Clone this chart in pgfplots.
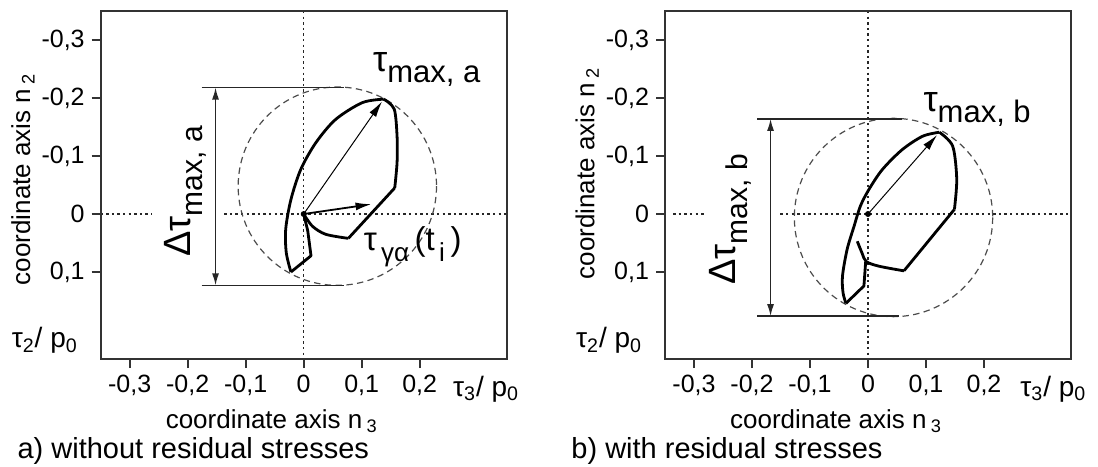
\documentclass[border=0pt]{standalone}
\usepackage{fontspec}
\setmainfont{Liberation Sans}
\usepackage{pgfplots}
\pgfplotsset{compat=1.18}
\usetikzlibrary{arrows.meta}

\newcommand{\fs}[1]{\fontsize{#1}{#1}\selectfont}
\newcommand{\lo}[2]{\raisebox{-0.32em}{\fs{#1}#2}}

\pgfplotsset{
  panel/.style={
    scale only axis, width=203pt, height=174pt,
    xmin=-0.35, xmax=0.35, ymin=-0.35, ymax=0.25, y dir=reverse,
    axis line style={black!80, line width=1pt},
    xtick={-0.3,-0.2,-0.1,0,0.1,0.2},
    ytick={-0.3,-0.2,-0.1,0,0.1},
    tick pos=left, tick align=outside,
    major tick length=4.5pt,
    tick style={black!80, line width=1pt},
    ticklabel style={font=\fs{12.5}},
    /pgf/number format/.cd, use comma, fixed, assume math mode=true,
    /pgfplots/.cd,
    clip=false,
  },
  loop/.style={black, line width=1.4pt, line join=round, mark=none},
}

\tikzset{
  dotl/.style={black!85, line width=0.8pt, dash pattern=on 1.2pt off 1.6pt},
  dcirc/.style={black!70, line width=0.6pt, dash pattern=on 3.2pt off 2.2pt},
  dim/.style={black!85, line width=0.7pt},
  frame/.style={black!80, line width=1.1pt},
}

\begin{document}
\begin{tikzpicture}

% a) without residual stresses
\begin{axis}[panel, name=pa, at={(0,0)}, anchor=south west]
  \draw[dotl] (axis cs:0,-0.35) -- (axis cs:0,0.25);
  \draw[dotl] (axis cs:-0.35,0) -- (axis cs:-0.262,0);
  \draw[dotl] (axis cs:-0.137,0) -- (axis cs:0.35,0);
  \draw[dcirc] (axis cs:0.058,-0.048) circle[radius=0.171];
  \draw[dim] (axis cs:-0.176,-0.218) -- (axis cs:0.069,-0.218);
  \draw[dim] (axis cs:-0.176,0.123) -- (axis cs:0.069,0.123);
  \draw[dim, {Latex[length=6pt,width=3.5pt]}-{Latex[length=6pt,width=3.5pt]}]
    (axis cs:-0.152,-0.218) -- (axis cs:-0.152,0.123);

  \addplot[loop, smooth] coordinates {(0.138,-0.198) (0.101,-0.192) (0.055,-0.163) (0.021,-0.123) (-0.005,-0.077) (-0.022,-0.025) (-0.031,0.026) (-0.030,0.067) (-0.022,0.100)};
  \addplot[loop] coordinates {(-0.022,0.100) (0.0126,0.072) (0.007,0.029) (0,0)};
  \addplot[loop, smooth] coordinates {(0,0) (0.015,0.021) (0.038,0.035) (0.077,0.042)};
  \addplot[loop] coordinates {(0.077,0.042) (0.157,-0.045)};
  \addplot[loop, smooth] coordinates {(0.157,-0.045) (0.161,-0.089) (0.161,-0.134) (0.156,-0.181) (0.138,-0.198)};

  \draw[black, line width=0.5pt, -{Latex[length=8pt,width=4pt]}] (axis cs:0,0) -- (axis cs:0.135,-0.194);
  \draw[black, line width=0.9pt, -{Latex[length=8pt,width=4pt]}] (axis cs:0,0) -- (axis cs:0.117,-0.017);
  \fill[black] (axis cs:0,0) circle[radius=1.5pt];

  \node[anchor=base west, inner sep=0pt] at (axis cs:0.119,-0.246) {\fs{18}τ\lo{15.5}{max, a}};
  \node[anchor=base west, inner sep=0pt] at (axis cs:0.103,0.063) {\fs{16.5}τ\lo{13}{\,γα}\,(t\lo{13}{\,i}\,)};
  \node[rotate=90, inner sep=0pt] at (axis cs:-0.204,-0.039) {\fs{19}Δτ\lo{15}{max, a}};

  \node[rotate=90] at (axis cs:-0.484,-0.060) {\fs{13}coordinate axis n\,\textsubscript{2}};
  \node[anchor=west, inner sep=0pt] at (axis cs:-0.504,0.218) {\fs{14}τ\textsubscript{2}/ p\textsubscript{0}};
  \node[anchor=west, inner sep=0pt] at (axis cs:0.257,0.302) {\fs{14}τ\textsubscript{3}/ p\textsubscript{0}};
  \node at (axis cs:-0.055,0.357) {\fs{13}coordinate axis n\,\textsubscript{3}};
  \node[anchor=west, inner sep=0pt] at (axis cs:-0.494,0.408) {\fs{14.5}a) without residual stresses};
\end{axis}
\draw[frame] (pa.south west) rectangle (pa.north east);

% b) with residual stresses
\begin{axis}[panel, name=pb, at={(282.15pt,0)}, anchor=south west]
  \draw[dotl] (axis cs:0,-0.35) -- (axis cs:0,0.25);
  \draw[dotl] (axis cs:-0.336,0) -- (axis cs:-0.279,0);
  \draw[dotl] (axis cs:-0.151,0) -- (axis cs:0.35,0);
  \draw[dcirc] (axis cs:0.044,0.006) circle[radius=0.171];
  \draw[dim] (axis cs:-0.191,-0.164) -- (axis cs:0.059,-0.164);
  \draw[dim] (axis cs:-0.191,0.176) -- (axis cs:0.054,0.176);
  \draw[dim, {Latex[length=6pt,width=3.5pt]}-{Latex[length=6pt,width=3.5pt]}]
    (axis cs:-0.168,-0.164) -- (axis cs:-0.168,0.176);

  \addplot[loop, smooth] coordinates {(0.123,-0.141) (0.094,-0.134) (0.059,-0.111) (0.025,-0.077) (0.002,-0.043) (-0.013,-0.014) (-0.024,0.021) (-0.036,0.061) (-0.044,0.107) (-0.043,0.136) (-0.038,0.154)};
  \addplot[loop] coordinates {(-0.038,0.154) (-0.007,0.124) (-0.004,0.082)};
  \addplot[loop, smooth] coordinates {(-0.0185,0.047) (-0.010,0.068) (-0.003,0.082) (0.019,0.090) (0.062,0.098)};
  \addplot[loop] coordinates {(0.062,0.098) (0.149,-0.008)};
  \addplot[loop, smooth] coordinates {(0.149,-0.008) (0.153,-0.060) (0.146,-0.117) (0.123,-0.141)};

  \draw[black, line width=0.5pt, -{Latex[length=8pt,width=4pt]}] (axis cs:0,0) -- (axis cs:0.119,-0.136);
  \fill[black] (axis cs:0,0) circle[radius=1.5pt];

  \node[anchor=base west, inner sep=0pt] at (axis cs:0.095,-0.177) {\fs{18}τ\lo{15.5}{max, b}};
  \node[rotate=90, inner sep=0pt] at (axis cs:-0.238,0.009) {\fs{19}Δτ\lo{15}{max, b}};

  \node[rotate=90] at (axis cs:-0.484,-0.070) {\fs{13}coordinate axis n\,\textsubscript{2}};
  \node[anchor=west, inner sep=0pt] at (axis cs:-0.504,0.218) {\fs{14}τ\textsubscript{2}/ p\textsubscript{0}};
  \node[anchor=west, inner sep=0pt] at (axis cs:0.262,0.302) {\fs{14}τ\textsubscript{3}/ p\textsubscript{0}};
  \node at (axis cs:-0.055,0.357) {\fs{13}coordinate axis n\,\textsubscript{3}};
  \node[anchor=west, inner sep=0pt] at (axis cs:-0.512,0.408) {\fs{14.5}b) with residual stresses};
\end{axis}
\draw[frame] (pb.south west) rectangle (pb.north east);

\pgfresetboundingbox
\path (-50.35pt,-53.5pt) rectangle (498.65pt,179.5pt);
\end{tikzpicture}
\end{document}
